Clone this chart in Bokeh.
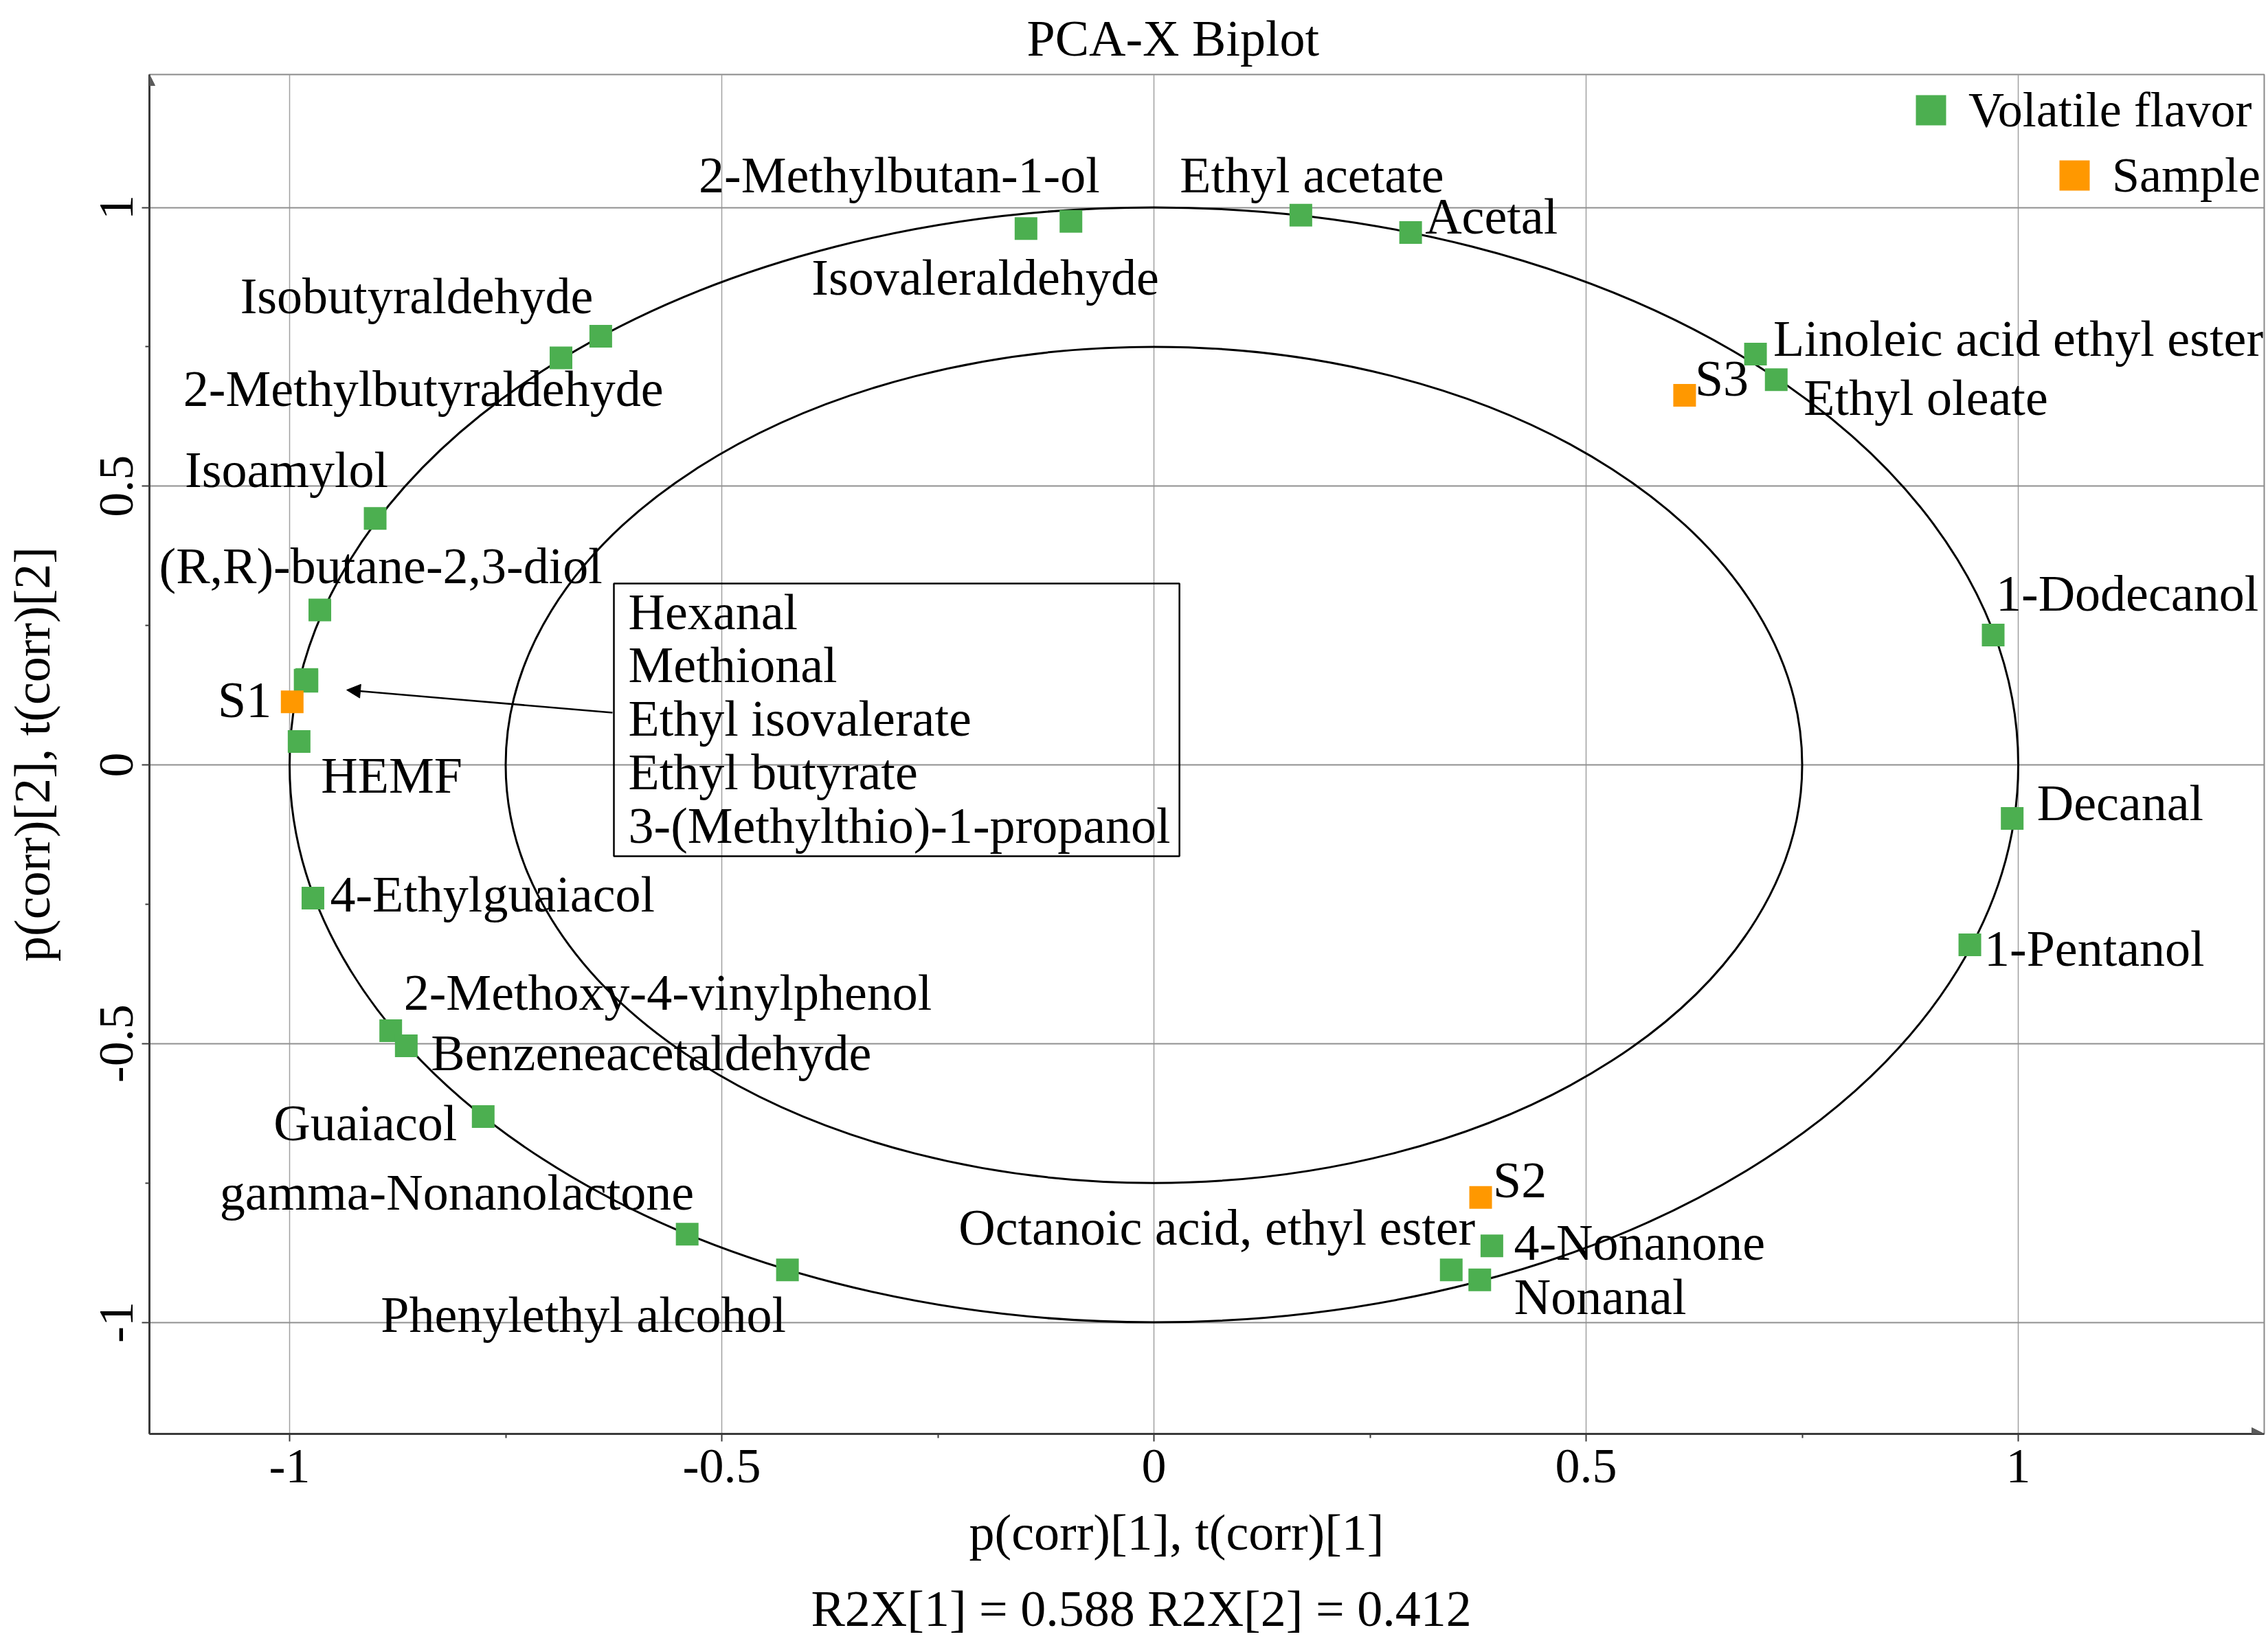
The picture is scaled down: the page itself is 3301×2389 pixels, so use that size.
import math
from bokeh.plotting import figure
from bokeh.models import (ColumnDataSource, Range1d, FixedTicker, NumeralTickFormatter,
                          Legend, LegendItem, Label, Arrow, NormalHead, Title)
from bokeh.core.properties import value
from bokeh.embed import file_html
from bokeh.resources import INLINE

# ---------------- data ----------------
flavor_names = [
    "Isovaleraldehyde", "2-Methylbutan-1-ol", "Ethyl acetate", "Acetal",
    "Isobutyraldehyde", "2-Methylbutyraldehyde", "Isoamylol", "(R,R)-butane-2,3-diol",
    "HEMF", "4-Ethylguaiacol", "2-Methoxy-4-vinylphenol", "Benzeneacetaldehyde",
    "Guaiacol", "gamma-Nonanolactone", "Phenylethyl alcohol", "Octanoic acid, ethyl ester",
    "Nonanal", "4-Nonanone", "1-Pentanol", "Decanal", "1-Dodecanol",
    "Ethyl oleate", "Linoleic acid ethyl ester",
]
flavor_p1 = [-0.148, -0.096, 0.170, 0.297, -0.640, -0.686, -0.901, -0.965,
             -0.989, -0.973, -0.883, -0.865, -0.776, -0.540, -0.424, 0.344,
             0.377, 0.391, 0.944, 0.993, 0.971, 0.720, 0.696]
flavor_p2 = [0.962, 0.975, 0.986, 0.955, 0.769, 0.730, 0.442, 0.278,
             0.042, -0.239, -0.477, -0.504, -0.631, -0.842, -0.906, -0.906,
             -0.924, -0.863, -0.323, -0.096, 0.233, 0.691, 0.737]

group_names = ["Hexanal", "Methional", "Ethyl isovalerate", "Ethyl butyrate",
               "3-(Methylthio)-1-propanol"]
group_p1 = [-0.981, -0.980, -0.981, -0.982, -0.980]
group_p2 = [0.152, 0.153, 0.151, 0.152, 0.150]

sample_names = ["S1", "S2", "S3"]
sample_t1 = [-0.997, 0.378, 0.614]
sample_t2 = [0.113, -0.776, 0.663]

circle_radii = [1.0, 0.75]
tick_values = [-1, -0.5, 0, 0.5, 1]
minor_tick_values = [-0.75, -0.25, 0.25, 0.75]
r2x = [0.588, 0.412]

# ---------------- layout / style ----------------
GREEN = "#4CAF50"
ORANGE = "#FF9800"
FONT = "Liberation Serif"
FS = "74px"
BASE_SHIFT = -24  # pixel correction of the text baseline

# label placement: name -> (dx px, dy px, align)
label_place = {
    "Isovaleraldehyde": (-312, 95, "left"),
    "2-Methylbutan-1-ol": (42, -43, "right"),
    "Ethyl acetate": (-176, -34, "left"),
    "Acetal": (21, 0, "left"),
    "Isobutyraldehyde": (-11, -34, "right"),
    "2-Methylbutyraldehyde": (149, 69, "right"),
    "Isoamylol": (19, -47, "right"),
    "(R,R)-butane-2,3-diol": (-234, -40, "left"),
    "HEMF": (32, 74, "left"),
    "4-Ethylguaiacol": (25, 19, "left"),
    "2-Methoxy-4-vinylphenol": (19, -32, "left"),
    "Benzeneacetaldehyde": (36, 35, "left"),
    "Guaiacol": (-38, 33, "right"),
    "gamma-Nonanolactone": (10, -37, "right"),
    "Phenylethyl alcohol": (-2, 89, "right"),
    "Octanoic acid, ethyl ester": (35, -38, "right"),
    "Nonanal": (50, 49, "left"),
    "4-Nonanone": (32, 19, "left"),
    "1-Pentanol": (21, 29, "left"),
    "Decanal": (36, 2, "left"),
    "1-Dodecanol": (4, -36, "left"),
    "Ethyl oleate": (40, 50, "left"),
    "Linoleic acid ethyl ester": (26, 2, "left"),
    "S1": (-30, 21, "right"),
    "S2": (18, -1, "left"),
    "S3": (15, 0, "left"),
}

# canvas-pixel -> data helpers (frame: 217..3295 x 108..2087)
FL, FR, FT, FB = 217, 3295, 108, 2087
X0_PX, X_UNIT = 1679.0, 1258.0
Y0_PX, Y_UNIT = 1113.0, 811.5
def px_x(px):
    return (px - X0_PX) / X_UNIT
def px_y(py):
    return (Y0_PX - py) / Y_UNIT

X_MIN, X_MAX = px_x(FL), px_x(FR)
Y_MIN, Y_MAX = px_y(FB), px_y(FT)

p = figure(frame_width=FR - FL, frame_height=FB - FT,
           x_range=Range1d(X_MIN, X_MAX), y_range=Range1d(Y_MIN, Y_MAX),
           min_border_left=FL, min_border_right=2, min_border_top=FT, min_border_bottom=298,
           output_backend="svg", toolbar_location=None, background_fill_color="white",
           border_fill_color="white")

p.outline_line_color = "#8a8a8a"
p.outline_line_width = 2

ticker = FixedTicker(ticks=tick_values, minor_ticks=minor_tick_values)
for ax in (p.xaxis[0], p.yaxis[0]):
    ax.ticker = ticker
    ax.formatter = NumeralTickFormatter(format="0.[0]")
    ax.axis_line_color = "#3a3a3a"
    ax.axis_line_width = 3
    ax.major_tick_line_color = "#3a3a3a"
    ax.major_tick_line_width = 2
    ax.minor_tick_line_color = "#3a3a3a"
    ax.minor_tick_line_width = 2
    ax.major_tick_out = 11
    ax.major_tick_in = 0
    ax.minor_tick_out = 6
    ax.minor_tick_in = 0
    ax.major_label_text_font = FONT
    ax.major_label_text_font_size = "72px"
    ax.major_label_text_color = "black"
p.xaxis.major_label_standoff = 12
p.yaxis.major_label_standoff = 14
p.yaxis.major_label_orientation = "vertical"
p.yaxis.axis_label = "p(corr)[2], t(corr)[2]"
p.yaxis.axis_label_text_font = FONT
p.yaxis.axis_label_text_font_size = FS
p.yaxis.axis_label_text_font_style = "normal"
p.yaxis.axis_label_text_color = "black"
p.yaxis.axis_label_standoff = 55

p.xgrid.grid_line_color = "#a0a0a0"
p.xgrid.grid_line_width = 1.5
p.ygrid.grid_line_color = "#909090"
p.ygrid.grid_line_width = 2

# correlation circles
p.ellipse(x=[0] * len(circle_radii), y=[0] * len(circle_radii),
          width=[2 * r for r in circle_radii], height=[2 * r for r in circle_radii],
          fill_color=None, line_color="black", line_width=3)

# labels
lab_names, lab_x, lab_y, lab_dx, lab_dy, lab_al = [], [], [], [], [], []
for n, x, y in list(zip(flavor_names, flavor_p1, flavor_p2)) + list(zip(sample_names, sample_t1, sample_t2)):
    dx, dy, al = label_place[n]
    lab_names.append(n); lab_x.append(x); lab_y.append(y)
    lab_dx.append(dx); lab_dy.append(dy + BASE_SHIFT); lab_al.append(al)
lab_src = ColumnDataSource(dict(x=lab_x, y=lab_y, text=lab_names, dx=lab_dx, dy=lab_dy, al=lab_al))
p.text(x="x", y="y", text="text", x_offset="dx", y_offset="dy", text_align="al",
       text_baseline="alphabetic", text_font=value(FONT), text_font_size=FS,
       text_color="black", source=lab_src)

# points
fl_src = ColumnDataSource(dict(x=flavor_p1 + group_p1, y=flavor_p2 + group_p2,
                               name=flavor_names + group_names))
r_fl = p.scatter(x="x", y="y", source=fl_src, marker="square", size=33,
                 fill_color=GREEN, line_color=None)
sm_src = ColumnDataSource(dict(x=sample_t1, y=sample_t2, name=sample_names))
r_sm = p.scatter(x="x", y="y", source=sm_src, marker="square", size=33,
                 fill_color=ORANGE, line_color=None)

# boxed group label + arrow
box = Label(x=px_x(893), y=px_y(849), text="\n".join(group_names),
            text_font=FONT, text_font_size=FS, text_color="black",
            text_align="left", text_baseline="top",
            text_line_height=0.951, border_line_color="black", border_line_width=2.5,
            background_fill_color=None,
            padding=dict(left=21, right=13, top=0, bottom=3))
p.add_layout(box)
p.add_layout(Arrow(end=NormalHead(size=20, fill_color="black", line_color="black"),
                   x_start=px_x(891), y_start=px_y(1037), x_end=px_x(504), y_end=px_y(1004),
                   line_color="black", line_width=2.5))

# axis arrow heads
p.add_layout(Arrow(end=NormalHead(size=18, fill_color="#5a5a5a", line_color="#5a5a5a"),
                   x_start=X_MAX - 0.05, y_start=Y_MIN, x_end=X_MAX, y_end=Y_MIN, line_alpha=0))
p.add_layout(Arrow(end=NormalHead(size=16, fill_color="#5a5a5a", line_color="#5a5a5a"),
                   x_start=X_MIN, y_start=Y_MAX - 0.05, x_end=X_MIN, y_end=Y_MAX, line_alpha=0))

# legends (location = bottom-left corner of the legend box, frame pixels)
leg1 = Legend(items=[LegendItem(label="Volatile flavor", renderers=[r_fl])],
              location=(2538, 1872), margin=0, padding=0, glyph_width=110, glyph_height=110,
              label_standoff=0, label_text_font=FONT, label_text_font_size="72px",
              label_text_color="black", border_line_color=None, background_fill_alpha=0)
leg2 = Legend(items=[LegendItem(label="Sample", renderers=[r_sm])],
              location=(2747, 1777), margin=0, padding=0, glyph_width=110, glyph_height=110,
              label_standoff=0, label_text_font=FONT, label_text_font_size="72px",
              label_text_color="black", border_line_color=None, background_fill_alpha=0)
p.add_layout(leg1)
p.add_layout(leg2)

# titles / axis titles
def mk_title(text, offset, standoff, size=FS, valign="bottom"):
    return Title(text=text, align="left", offset=offset, standoff=standoff,
                 vertical_align=valign, text_font=FONT, text_font_size=size,
                 text_font_style="normal", text_color="black")

p.add_layout(mk_title("PCA-X Biplot", 1277, 24, size="74px"), "above")
p.add_layout(mk_title("p(corr)[1], t(corr)[1]", 1193, 54), "below")
p.add_layout(mk_title(f"R2X[1] = {r2x[0]} R2X[2] = {r2x[1]}", 963, 0), "below")

open("out.html", "w").write(file_html(p, INLINE))
